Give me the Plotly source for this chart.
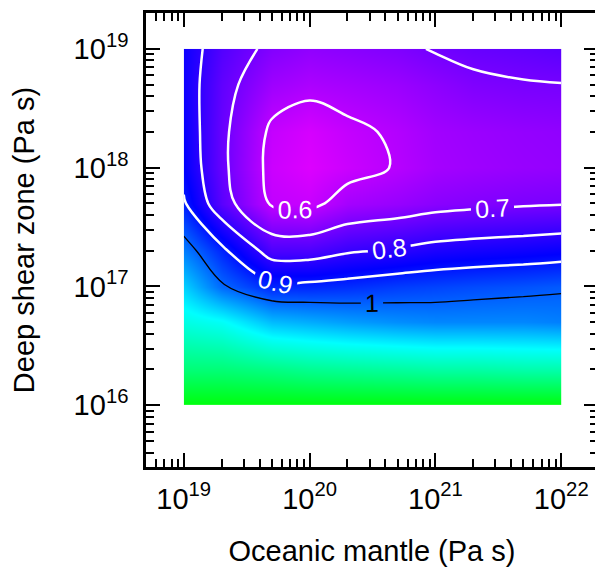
import plotly.graph_objects as go

# Grid of viscosities (Pa s)
oceanic_mantle = [1e19, 2e19, 5e19, 1e20, 2e20, 5e20, 1e21, 2e21, 5e21, 1e22]
deep_shear_zone = [1e16, 2e16, 5e16, 1e17, 2e17, 5e17, 1e18, 2e18, 5e18, 1e19]

# Misfit values: rows follow deep_shear_zone, columns follow oceanic_mantle
row_1e16 = [1.58, 1.58, 1.58, 1.58, 1.58, 1.58, 1.58, 1.58, 1.58, 1.58]
row_2e16 = [1.42, 1.42, 1.40, 1.38, 1.37, 1.36, 1.35, 1.35, 1.34, 1.34]
row_5e16 = [1.25, 1.22, 1.12, 1.10, 1.08, 1.06, 1.05, 1.05, 1.05, 1.04]
row_1e17 = [1.15, 1.01, 0.92, 0.92, 0.93, 0.95, 0.96, 0.97, 0.98, 0.99]
row_2e17 = [1.04, 0.92, 0.76, 0.76, 0.79, 0.81, 0.83, 0.84, 0.85, 0.86]
row_5e17 = [0.91, 0.74, 0.59, 0.58, 0.63, 0.65, 0.67, 0.68, 0.69, 0.695]
row_1e18 = [0.87, 0.72, 0.575, 0.55, 0.575, 0.605, 0.63, 0.64, 0.65, 0.655]
row_2e18 = [0.86, 0.72, 0.585, 0.56, 0.585, 0.61, 0.635, 0.645, 0.655, 0.66]
row_5e18 = [0.85, 0.73, 0.64, 0.62, 0.63, 0.645, 0.665, 0.685, 0.695, 0.698]
row_1e19 = [0.85, 0.75, 0.68, 0.66, 0.67, 0.685, 0.705, 0.72, 0.73, 0.74]

misfit = [row_1e16, row_2e16, row_5e16, row_1e17, row_2e17,
          row_5e17, row_1e18, row_2e18, row_5e18, row_1e19]

white_levels = [0.6, 0.7, 0.8, 0.9]
black_levels = [1.0]

x_major = [1e19, 1e20, 1e21, 1e22]
x_major_text = ["10<sup>19</sup>", "10<sup>20</sup>", "10<sup>21</sup>", "10<sup>22</sup>"]
y_major = [1e16, 1e17, 1e18, 1e19]
y_major_text = ["10<sup>16</sup>", "10<sup>17</sup>", "10<sup>18</sup>", "10<sup>19</sup>"]

x_minor = [m * 10.0 ** k for k in range(18, 23) for m in range(2, 10)]
y_minor = [m * 10.0 ** k for k in range(15, 20) for m in range(2, 10)]

zmin, zmax = 0.5, 1.6
def pos(v):
    return (v - zmin) / (zmax - zmin)

colorscale = [
    [0.0, "rgb(255,0,255)"],
    [pos(0.87), "rgb(0,0,255)"],
    [pos(1.21), "rgb(0,255,255)"],
    [1.0, "rgb(0,255,0)"],
]

FONT = "Liberation Sans, Arial, Helvetica, sans-serif"

fig = go.Figure()

fig.add_trace(go.Contour(
    x=oceanic_mantle, y=deep_shear_zone, z=misfit,
    colorscale=colorscale, zmin=zmin, zmax=zmax,
    contours=dict(coloring="heatmap", showlines=False),
    line=dict(width=0),
    showscale=False, hoverinfo="skip",
))

fig.add_trace(go.Contour(
    x=oceanic_mantle, y=deep_shear_zone, z=misfit,
    autocontour=False,
    contours=dict(coloring="none", start=white_levels[0], end=white_levels[-1],
                  size=0.1, showlabels=True,
                  labelfont=dict(family=FONT, size=25, color="white")),
    line=dict(color="white", width=2.5),
    showscale=False, hoverinfo="skip",
))

fig.add_trace(go.Contour(
    x=oceanic_mantle, y=deep_shear_zone, z=misfit,
    autocontour=False,
    contours=dict(coloring="none", start=black_levels[0], end=black_levels[0],
                  size=0.1, showlabels=True,
                  labelfont=dict(family=FONT, size=25, color="black")),
    line=dict(color="black", width=1.4),
    showscale=False, hoverinfo="skip",
))

axis_common = dict(
    showgrid=False, zeroline=False,
    showline=True, linecolor="black", linewidth=2.5, mirror="ticks",
    ticks="inside", ticklen=14, tickwidth=2, tickcolor="black",
    tickfont=dict(family=FONT, size=29, color="black"),
    tickmode="array",
)

fig.update_xaxes(
    type="log", range=[18.70, 22.292],
    tickvals=x_major, ticktext=x_major_text,
    minor=dict(tickmode="array", tickvals=x_minor, ticks="inside",
               ticklen=8, tickwidth=2, tickcolor="black", showgrid=False),
    title=dict(text="Oceanic mantle (Pa s)", font=dict(family=FONT, size=29, color="black"),
               standoff=28),
    ticklabelstandoff=4,
    **axis_common,
)
fig.update_yaxes(
    type="log", range=[15.48, 19.302],
    tickvals=y_major, ticktext=y_major_text,
    minor=dict(tickmode="array", tickvals=y_minor, ticks="inside",
               ticklen=8, tickwidth=2, tickcolor="black", showgrid=False),
    title=dict(text="Deep shear zone (Pa s)", font=dict(family=FONT, size=29, color="black"),
               standoff=38),
    ticklabelstandoff=9,
    **axis_common,
)

# page body adds an 8px margin, so the figure is offset by (8, 8)
fig.update_layout(
    width=595, height=560,
    margin=dict(l=138, r=2, t=3, b=101),
    paper_bgcolor="white", plot_bgcolor="white",
    showlegend=False,
    font=dict(family=FONT, color="black"),
)

fig.write_html("out.html")
